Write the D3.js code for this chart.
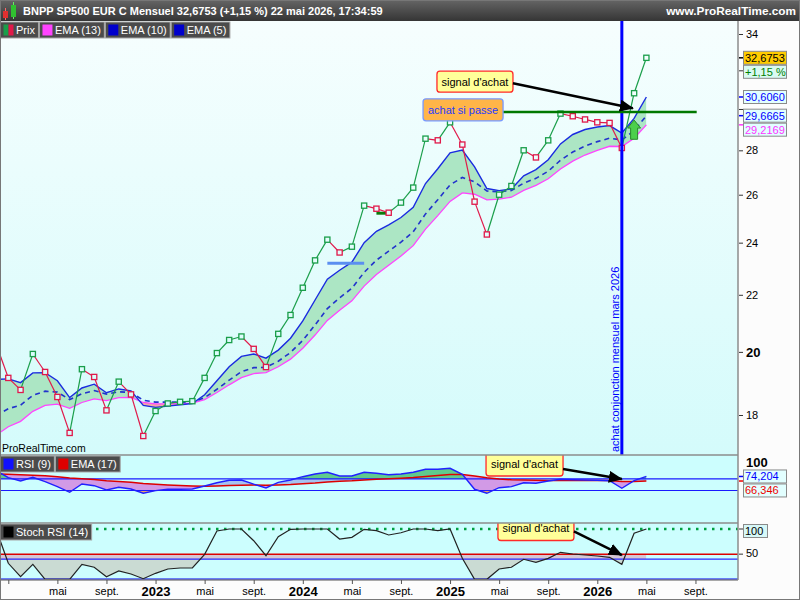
<!DOCTYPE html>
<html>
<head>
<meta charset="utf-8">
<script src="https://cdn.jsdelivr.net/npm/d3@7"></script>
<style>
  body { margin: 0; background: #fff; }
  svg { display: block; font-family: "Liberation Sans", Arial, sans-serif; }
</style>
</head>
<body>
<svg id="chart" width="800" height="600"></svg>
<script>
// monthly bars, Dec 2021 .. May 2026 (Dec 2021 sits just off the left edge)
var months = d3.timeMonth.range(new Date(2021, 11, 1), new Date(2026, 5, 1));

var closes = [20.27,
  19.15, 18.77, 19.93, 19.34, 18.55, 17.47, 19.43, 19.18, 18.14, 19.03, 18.63, 17.38,
  18.12, 18.35, 18.40, 18.42, 19.15, 19.96, 20.40, 20.52, 20.10, 19.50, 20.61, 21.27,
  22.26, 23.30, 24.12, 23.61, 23.84, 25.53, 25.40, 25.23, 25.66, 26.31, 28.55, 28.47,
  29.34, 28.27, 25.70, 24.33, 26.00, 26.38, 28.00, 27.67, 28.47, 29.77, 29.64, 29.48,
  29.34, 29.31, 28.11, 30.80, 32.6753];

var ema5 = [19.10,
  19.12, 19.00, 19.31, 19.32, 19.06, 18.53, 18.83, 18.95, 18.68, 18.80, 18.74, 18.29,
  18.23, 18.27, 18.31, 18.35, 18.62, 19.06, 19.51, 19.85, 19.93, 19.79, 20.06, 20.46,
  21.06, 21.81, 22.58, 22.92, 23.23, 24.00, 24.46, 24.72, 25.03, 25.46, 26.49, 27.15,
  27.88, 28.01, 27.24, 26.27, 26.18, 26.25, 26.83, 27.11, 27.56, 28.30, 28.75, 28.99,
  29.11, 29.18, 28.82, 29.53, 30.606];

var ema10 = [17.98,
  18.19, 18.30, 18.60, 18.73, 18.70, 18.47, 18.65, 18.75, 18.64, 18.71, 18.69, 18.45,
  18.39, 18.39, 18.39, 18.39, 18.53, 18.79, 19.08, 19.35, 19.48, 19.49, 19.69, 19.98,
  20.39, 20.92, 21.50, 21.89, 22.24, 22.84, 23.31, 23.66, 24.02, 24.44, 25.18, 25.78,
  26.43, 26.76, 26.57, 26.16, 26.13, 26.18, 26.51, 26.72, 27.04, 27.54, 27.92, 28.20,
  28.41, 28.57, 28.49, 28.93, 29.6665];

var ema13 = [17.40,
  17.65, 17.81, 18.11, 18.29, 18.33, 18.20, 18.38, 18.49, 18.44, 18.53, 18.54, 18.38,
  18.34, 18.34, 18.35, 18.36, 18.47, 18.69, 18.93, 19.16, 19.29, 19.32, 19.51, 19.76,
  20.12, 20.57, 21.08, 21.44, 21.78, 22.32, 22.76, 23.11, 23.47, 23.88, 24.55, 25.11,
  25.71, 26.08, 26.02, 25.78, 25.81, 25.89, 26.19, 26.41, 26.70, 27.14, 27.50, 27.78,
  28.00, 28.19, 28.18, 28.57, 29.2169];

var rsi9 = [84.5,
  72.1, 66.4, 72.8, 65.2, 56.6, 46.9, 61.2, 58.3, 50.9, 55.5, 52.6, 45.2,
  49.7, 52.1, 52.1, 52.6, 57.8, 63.4, 67.6, 68.1, 61.0, 54.5, 64.1, 68.1,
  73.8, 78.4, 81.4, 75.0, 75.0, 81.4, 79.7, 77.2, 78.4, 81.4, 86.6, 86.6,
  88.3, 77.9, 52.1, 45.2, 54.8, 56.6, 63.4, 62.4, 66.4, 69.3, 68.6, 68.1,
  67.6, 66.9, 53.8, 66.9, 74.204];

var rsiEma17 = [78.4,
  77.9, 77.1, 76.4, 75.3, 73.8, 71.6, 70.2, 68.8, 66.9, 65.5, 64.1, 62.1,
  60.7, 59.5, 58.6, 57.8, 57.4, 57.8, 58.6, 59.1, 59.5, 59.0, 59.5, 60.3,
  61.6, 62.9, 64.7, 65.9, 66.7, 68.1, 69.3, 70.2, 71.2, 72.4, 74.1, 75.9,
  77.6, 77.6, 75.0, 72.0, 70.0, 68.5, 68.0, 67.5, 67.3, 67.4, 67.4, 67.4,
  67.3, 67.2, 65.6, 65.7, 66.346];

var stochRsi = [100,
  31.8, 5.2, 29.8, 0, 0, 0, 29.8, 23.9, 5.2, 16.5, 10.5, 1.2,
  11.9, 20.5, 22.5, 22.5, 49.7, 96, 100, 100, 76.7, 46.9, 84.7, 99.4,
  100, 100, 100, 80.1, 83.5, 99.4, 96.6, 88.1, 92.6, 100, 100, 96.6,
  100, 41.7, 0, 0, 20.5, 23.9, 39.8, 33.8, 41.7, 53.7, 50.3, 48.3,
  46.3, 43.7, 29.8, 91.5, 100];

var priceTicks = [18, 20, 22, 24, 26, 28, 30, 32, 34];
var hiddenTickLabels = [30, 32];   // covered by the value tags on the scale
var monthNames = ["janv.", "févr.", "mars", "avr.", "mai", "juin", "juil.", "août", "sept.", "oct.", "nov.", "déc."];
var axisMonths = [1, 5, 9, 13, 17, 21, 25, 29, 33, 37, 41, 45, 49, 53, 57];

// drawn objects on the price panel (month index, price)
var trendSegments = [{from: 27, to: 30, value: 23.19}, {from: 31, to: 32, value: 25.21}];
var breakLevel = {from: 41.3, to: 57.1, value: 29.85};
var signalMonth = 51;

var W = 800, H = 600, plotRight = 738;
var mainTop = 21, mainBottom = 455, rsiBottom = 523, stochBottom = 580;
var font = "'Liberation Sans', Arial, sans-serif";

var x = d3.scaleLinear().domain([1, 49]).range([8.3, 597.3]);
var y = d3.scaleLog().domain([18, 34]).range([415, 34]);
var yRsi = d3.scaleLinear().domain([0, 100]).range([519.5, 461.5]);
var ySto = d3.scaleLinear().domain([0, 100]).range([579.3, 529]);

var svg = d3.select("#chart");
var defs = svg.append("defs");

function gradient(id, y1, y2, c1, c2) {
  var g = defs.append("linearGradient").attr("id", id).attr("gradientUnits", "userSpaceOnUse")
    .attr("x1", 0).attr("y1", y1).attr("x2", 0).attr("y2", y2);
  g.append("stop").attr("offset", 0).attr("stop-color", c1);
  g.append("stop").attr("offset", 1).attr("stop-color", c2);
}
gradient("mainBg", mainTop, mainBottom, "#f6fefe", "#d4fbfb");
gradient("headBg", 0, 21, "#656565", "#353535");

function clipRect(id, x0, y0, w, h) {
  defs.append("clipPath").attr("id", id).append("rect")
    .attr("x", x0).attr("y", y0).attr("width", w).attr("height", h);
}
clipRect("clipMain", 0, mainTop, plotRight, mainBottom - mainTop);
clipRect("clipRsi", 0, mainBottom, plotRight, rsiBottom - mainBottom);
clipRect("clipSto", 0, rsiBottom, plotRight, stochBottom - rsiBottom);

defs.append("marker").attr("id", "arrowHead").attr("viewBox", "0 0 14 12")
  .attr("refX", 13).attr("refY", 6).attr("markerWidth", 14).attr("markerHeight", 12)
  .attr("markerUnits", "userSpaceOnUse").attr("orient", "auto")
  .append("path").attr("d", "M0,0L14,6L0,12Z").attr("fill", "#000");

// backgrounds
svg.append("rect").attr("width", W).attr("height", H).attr("fill", "#fcfcfc");
svg.append("rect").attr("x", 0).attr("y", mainTop).attr("width", plotRight).attr("height", mainBottom - mainTop).attr("fill", "url(#mainBg)");
svg.append("rect").attr("x", 0).attr("y", mainBottom).attr("width", plotRight).attr("height", stochBottom - mainBottom).attr("fill", "#ccfefe");

var idx = d3.range(months.length);
var xs = idx.map(function (i) { return x(i); });

var clipCount = 0;
// fill the band where line a lies above line b (smaller pixel y)
function fillAbove(g, ya, yb, top, bottom, color) {
  var id = "band" + (clipCount++);
  var clipArea = d3.area().x(function (d, i) { return xs[i]; }).y0(top).y1(function (d, i) { return yb[i]; });
  defs.append("clipPath").attr("id", id).append("path").attr("d", clipArea(idx));
  var fillArea = d3.area().x(function (d, i) { return xs[i]; }).y0(function (d, i) { return ya[i]; }).y1(bottom);
  return g.append("path").attr("d", fillArea(idx)).attr("clip-path", "url(#" + id + ")").attr("fill", color);
}
function pathOf(values, scale) {
  return d3.line().x(function (d, i) { return xs[i]; }).y(function (d) { return scale(d); })(values);
}
function flat(v) { return idx.map(function () { return v; }); }

function noteBox(g, cx, cy, w, h, label, fill, stroke, color) {
  g.append("rect").attr("x", cx - w / 2).attr("y", cy - h / 2).attr("width", w).attr("height", h)
    .attr("rx", 3).attr("fill", fill).attr("stroke", stroke).attr("stroke-width", 1.3);
  g.append("text").attr("x", cx).attr("y", cy + 4).attr("text-anchor", "middle")
    .attr("font-size", 11).attr("fill", color).text(label);
}
function arrow(g, x1, y1, x2, y2) {
  g.append("line").attr("x1", x1).attr("y1", y1).attr("x2", x2).attr("y2", y2)
    .attr("stroke", "#000").attr("stroke-width", 2.5).attr("marker-end", "url(#arrowHead)");
}

// ---------------- price panel ----------------
var gMain = svg.append("g").attr("clip-path", "url(#clipMain)");
var y5 = ema5.map(y), y13 = ema13.map(y);
fillAbove(gMain, y5, y13, mainTop, mainBottom, "#ace6c4");
fillAbove(gMain, y13, y5, mainTop, mainBottom, "#f3a6a6");

gMain.append("path").attr("d", pathOf(ema13, y)).attr("fill", "none").attr("stroke", "#ff44ff").attr("stroke-width", 1.3);
gMain.append("path").attr("d", pathOf(ema10, y)).attr("fill", "none").attr("stroke", "#2233cc")
  .attr("stroke-width", 1.6).attr("stroke-dasharray", "5,4");
gMain.append("path").attr("d", pathOf(ema5, y)).attr("fill", "none").attr("stroke", "#1a2be0").attr("stroke-width", 1.4);

gMain.selectAll(".seg").data(trendSegments).enter().append("line")
  .attr("x1", function (d) { return x(d.from); }).attr("x2", function (d) { return x(d.to); })
  .attr("y1", function (d) { return y(d.value); }).attr("y2", function (d) { return y(d.value); })
  .attr("stroke", function (d, i) { return i === 0 ? "#5b8ff0" : "#0a7a0a"; }).attr("stroke-width", 3);

var upColor = "#1a9e4a", downColor = "#e0194a";
function isUp(i) { return i > 0 && closes[i] >= closes[i - 1]; }
gMain.selectAll(".pl").data(idx.slice(1)).enter().append("line")
  .attr("x1", function (i) { return x(i - 1); }).attr("y1", function (i) { return y(closes[i - 1]); })
  .attr("x2", function (i) { return x(i); }).attr("y2", function (i) { return y(closes[i]); })
  .attr("stroke", function (i) { return isUp(i) ? upColor : downColor; }).attr("stroke-width", 1.2);
gMain.selectAll(".pt").data(idx).enter().append("rect")
  .attr("x", function (i) { return x(i) - 2.6; }).attr("y", function (i) { return y(closes[i]) - 2.6; })
  .attr("width", 5.2).attr("height", 5.2).attr("fill", "url(#mainBg)")
  .attr("stroke", function (i) { return isUp(i) ? upColor : downColor; }).attr("stroke-width", 1.3);

// signal month vertical
var sx = x(signalMonth);
gMain.append("line").attr("x1", sx).attr("x2", sx).attr("y1", mainTop).attr("y2", mainBottom)
  .attr("stroke", "#0000ff").attr("stroke-width", 3);
gMain.append("text").attr("transform", "translate(" + (sx - 3) + "," + (mainBottom - 3) + ") rotate(-90)")
  .attr("font-size", 11).attr("fill", "#0000ff").text("achat conjonction mensuel mars 2026");

gMain.append("line").attr("x1", x(breakLevel.from)).attr("x2", x(breakLevel.to))
  .attr("y1", y(breakLevel.value)).attr("y2", y(breakLevel.value))
  .attr("stroke", "#007800").attr("stroke-width", 2.5);

noteBox(gMain, x(38.06), y(29.96), 80, 22, "achat si passe", "#ffb548", "#7799ff", "#1f3cff");
noteBox(gMain, x(39.03), y(31.40), 76, 21, "signal d'achat", "#ffff99", "#ff2a2a", "#000");
arrow(gMain, x(39.03) + 38, y(31.40) + 1.5, x(51.9), y(30.04));

// green up arrow on April 2026
var ax = x(52), aTop = y(29.45), aBot = y(28.52);
gMain.append("polygon")
  .attr("points", [[ax, aTop], [ax + 6.5, aTop + 8], [ax + 3.5, aTop + 8], [ax + 3.5, aBot],
    [ax - 3.5, aBot], [ax - 3.5, aTop + 8], [ax - 6.5, aTop + 8]].join(" "))
  .attr("fill", "#4cd04c").attr("stroke", "#2a8a2a").attr("stroke-width", 1);

gMain.append("text").attr("x", 2).attr("y", mainBottom - 3).attr("font-size", 10.5).attr("fill", "#000").text("ProRealTime.com");

// ---------------- RSI panel ----------------
var gRsi = svg.append("g").attr("clip-path", "url(#clipRsi)");
var yR = rsi9.map(yRsi), yE = rsiEma17.map(yRsi);
fillAbove(gRsi, yR, yE, mainBottom, rsiBottom, "#a6c2ef");
fillAbove(gRsi, yE, yR, mainBottom, rsiBottom, "#d29ae6");
fillAbove(gRsi, yR, flat(yRsi(70)), mainBottom, rsiBottom, "#5fcb8e");
fillAbove(gRsi, flat(yRsi(50)), yR, mainBottom, rsiBottom, "#e6a96b");
[70, 50].forEach(function (lv) {
  gRsi.append("line").attr("x1", 0).attr("x2", plotRight).attr("y1", yRsi(lv)).attr("y2", yRsi(lv))
    .attr("stroke", "#1a1aff").attr("stroke-width", 1.2);
});
gRsi.append("path").attr("d", pathOf(rsiEma17, yRsi)).attr("fill", "none").attr("stroke", "#dd0000").attr("stroke-width", 1.5);
gRsi.append("path").attr("d", pathOf(rsi9, yRsi)).attr("fill", "none").attr("stroke", "#2020ff").attr("stroke-width", 1.4);
noteBox(gRsi, x(43.07), yRsi(95.7), 77, 24, "signal d'achat", "#ffff99", "#ff2a2a", "#000");
arrow(gRsi, x(43.07) + 38.5, yRsi(95.7) + 5, x(51), yRsi(69.8));

// ---------------- Stoch RSI panel ----------------
var gSto = svg.append("g").attr("clip-path", "url(#clipSto)");
var yS = stochRsi.map(ySto);
fillAbove(gSto, flat(ySto(50)), yS, rsiBottom, stochBottom, "#cadbd3");
var gBand = gSto.append("g");
clipRect("clipBand", 0, ySto(50), plotRight, ySto(40) - ySto(50));
gBand.attr("clip-path", "url(#clipBand)");
fillAbove(gBand, flat(ySto(50)), yS.map(function (v) { return Math.max(v, ySto(40)); }), rsiBottom, stochBottom, "#d6c7d2");
gSto.append("line").attr("x1", 0).attr("x2", plotRight).attr("y1", ySto(100)).attr("y2", ySto(100))
  .attr("stroke", "#00a040").attr("stroke-width", 2.5).attr("stroke-dasharray", "2.5,5.5");
gSto.append("line").attr("x1", 0).attr("x2", plotRight).attr("y1", ySto(50)).attr("y2", ySto(50))
  .attr("stroke", "#dd0000").attr("stroke-width", 1.5);
gSto.append("line").attr("x1", 0).attr("x2", plotRight).attr("y1", ySto(40)).attr("y2", ySto(40))
  .attr("stroke", "#2a2aff").attr("stroke-width", 1.2);
gSto.append("line").attr("x1", 0).attr("x2", plotRight).attr("y1", ySto(0)).attr("y2", ySto(0))
  .attr("stroke", "#0000ee").attr("stroke-width", 1.5);
gSto.append("path").attr("d", pathOf(stochRsi, ySto)).attr("fill", "none").attr("stroke", "#222").attr("stroke-width", 1.2);
noteBox(gSto, x(44.0), ySto(101), 76, 24, "signal d'achat", "#ffff99", "#ff2a2a", "#000");
arrow(gSto, x(44.0) + 38, ySto(101) + 3, x(51), ySto(48.3));

// ---------------- frames ----------------
[mainBottom, rsiBottom, stochBottom].forEach(function (yy) {
  svg.append("line").attr("x1", 0).attr("x2", plotRight).attr("y1", yy).attr("y2", yy).attr("stroke", "#8c8c8c").attr("stroke-width", 1.5);
});
svg.append("line").attr("x1", plotRight).attr("x2", plotRight).attr("y1", mainTop).attr("y2", stochBottom).attr("stroke", "#8c8c8c").attr("stroke-width", 1.5);

// ---------------- axes ----------------
var yAxis = d3.axisRight(y).tickValues(priceTicks).tickSize(4).tickPadding(3).tickFormat(function (d) {
  return hiddenTickLabels.indexOf(d) >= 0 ? "" : d3.format("d")(d);
});
var gy = svg.append("g").attr("transform", "translate(" + (plotRight + 1) + ",0)").call(yAxis);
gy.select(".domain").remove();
gy.attr("font-family", font);
gy.selectAll("text").attr("fill", "#000")
  .attr("font-size", function (d) { return d === 20 ? 13 : 11; })
  .attr("font-weight", function (d) { return d === 20 ? "bold" : "normal"; });
gy.selectAll("line").attr("stroke", "#333");

var xAxis = d3.axisBottom(x).tickValues(axisMonths).tickSize(4).tickPadding(3).tickFormat(function (i) {
  var dt = d3.timeMonth.offset(months[0], i);
  if (dt.getMonth() === 0) return i === 1 ? "" : dt.getFullYear();
  return monthNames[dt.getMonth()];
});
var gx = svg.append("g").attr("transform", "translate(0," + stochBottom + ")").call(xAxis);
gx.select(".domain").remove();
gx.attr("font-family", font);
gx.selectAll("line").attr("stroke", "#555");
gx.selectAll("text").attr("fill", "#000").each(function (i) {
  var year = d3.timeMonth.offset(months[0], i).getMonth() === 0;
  d3.select(this).attr("font-size", year ? 13 : 11).attr("font-weight", year ? "bold" : "normal");
});

// value tags on the right scale
function tags(list) {
  var prevBottom = -1e9;
  list.forEach(function (t) {
    var top = Math.max(t.y - 6.5, prevBottom + 1);
    if (t.tick) {
      svg.append("line").attr("x1", plotRight + 1).attr("x2", plotRight + 5).attr("y1", t.y).attr("y2", t.y)
        .attr("stroke", t.tick).attr("stroke-width", 1.5);
    }
    svg.append("rect").attr("x", 743.5).attr("y", top).attr("width", t.w || 43).attr("height", 13)
      .attr("fill", t.fill).attr("stroke", "#8a8a8a").attr("stroke-width", 1);
    svg.append("text").attr("x", 745).attr("y", top + 10.5).attr("font-size", 11).attr("fill", t.color).text(t.text);
    prevBottom = top + 13;
  });
}
tags([
  {y: y(closes[closes.length - 1]), text: "32,6753", color: "#000", fill: "#ffcc00", tick: "#000"},
  {y: -1e9, text: "+1,15 %", color: "#008000", fill: "#d9faf2"},
  {y: y(ema5[ema5.length - 1]), text: "30,6060", color: "#0000ff", fill: "#e2ffff", tick: "#0000ff"},
  {y: y(ema10[ema10.length - 1]), text: "29,6665", color: "#0000ff", fill: "#e2ffff", tick: "#0000ff"},
  {y: y(ema13[ema13.length - 1]), text: "29,2169", color: "#ff33ff", fill: "#e2ffff", tick: "#ff33ff"}
]);
svg.append("text").attr("x", 746).attr("y", yRsi(100) + 5).attr("font-size", 13).attr("font-weight", "bold").attr("fill", "#000").text("100");
tags([
  {y: yRsi(rsi9[rsi9.length - 1]), text: "74,204", color: "#0000ff", fill: "#e2ffff", tick: "#0000ff"},
  {y: yRsi(rsiEma17[rsiEma17.length - 1]), text: "66,346", color: "#ee0000", fill: "#e2ffff", tick: "#ee0000"}
]);
tags([{y: ySto(100) + 2, text: "100", color: "#000", fill: "#d6f8f8", w: 24}]);
svg.append("line").attr("x1", plotRight + 1).attr("x2", plotRight + 5).attr("y1", ySto(100)).attr("y2", ySto(100)).attr("stroke", "#333");
svg.append("line").attr("x1", plotRight + 1).attr("x2", plotRight + 5).attr("y1", ySto(50)).attr("y2", ySto(50)).attr("stroke", "#333");
svg.append("text").attr("x", 746).attr("y", ySto(50) + 3).attr("font-size", 11).attr("fill", "#000").text("50");

// ---------------- header + legends ----------------
svg.append("rect").attr("x", 0).attr("y", 0).attr("width", W).attr("height", mainTop).attr("fill", "url(#headBg)");
svg.append("line").attr("x1", 5.5).attr("x2", 5.5).attr("y1", 8).attr("y2", 20).attr("stroke", "#ff6666");
svg.append("rect").attr("x", 3).attr("y", 11).attr("width", 5).attr("height", 7).attr("fill", "#e03030");
svg.append("line").attr("x1", 13.5).attr("x2", 13.5).attr("y1", 2).attr("y2", 19).attr("stroke", "#66ee66");
svg.append("rect").attr("x", 11).attr("y", 5).attr("width", 5).attr("height", 12).attr("fill", "#30c030");
svg.append("text").attr("x", 23).attr("y", 15).attr("font-size", 11).attr("font-weight", "bold").attr("fill", "#fff")
  .text("BNPP SP500 EUR C Mensuel 32,6753 (+1,15 %) 22 mai 2026, 17:34:59");
svg.append("text").attr("x", 796).attr("y", 15).attr("text-anchor", "end").attr("font-size", 11.8).attr("font-weight", "bold").attr("fill", "#fff")
  .text("www.ProRealTime.com");

function legendTabs(items, x0, y0, h) {
  var xCur = x0;
  items.forEach(function (item) {
    var g = svg.append("g");
    var t = g.append("text").attr("x", xCur + 16).attr("y", y0 + h / 2 + 4).attr("font-size", 11).attr("fill", "#fff").text(item.label);
    var w = t.node().getComputedTextLength() + 19;
    g.insert("rect", "text").attr("x", xCur + 0.5).attr("y", y0 + 0.5).attr("width", w).attr("height", h)
      .attr("fill", "#4b4b4b").attr("stroke", "#a5a5a5");
    var sw = 10 / item.colors.length;
    item.colors.forEach(function (c, k) {
      g.append("rect").attr("x", xCur + 3.5 + k * sw).attr("y", y0 + 3).attr("width", sw).attr("height", h - 5).attr("fill", c);
    });
    xCur += w + 1;
  });
}
legendTabs([
  {label: "Prix", colors: ["#1a9e4a", "#e0194a"]},
  {label: "EMA (13)", colors: ["#ff44ff"]},
  {label: "EMA (10)", colors: ["#0000cc"]},
  {label: "EMA (5)", colors: ["#0000cc"]}
], 0, 21.5, 16);
legendTabs([
  {label: "RSI (9)", colors: ["#1010ff"]},
  {label: "EMA (17)", colors: ["#dd0000"]}
], 0, 455.5, 16);
legendTabs([{label: "Stoch RSI (14)", colors: ["#000"]}], 0, 523.5, 16);

svg.append("rect").attr("x", 0.5).attr("y", 0.5).attr("width", W - 1).attr("height", H - 1).attr("fill", "none").attr("stroke", "#777");
</script>
</body>
</html>
